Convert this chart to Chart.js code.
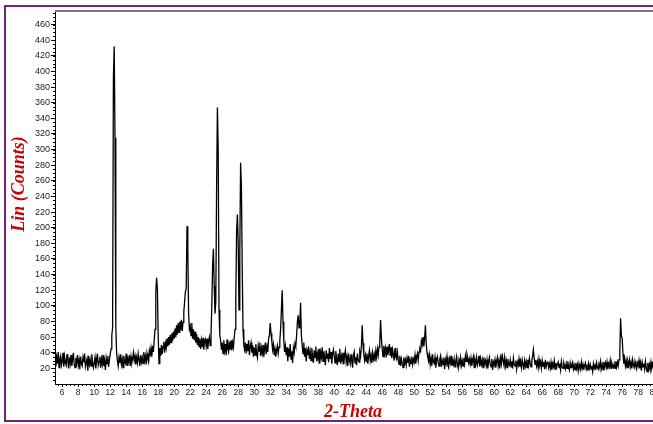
<!DOCTYPE html>
<html>
<head>
<meta charset="utf-8">
<script src="https://cdn.jsdelivr.net/npm/chart.js@4.4.1/dist/chart.umd.min.js"></script>
<style>
html, body { margin: 0; padding: 0; background: #fff; overflow: hidden; width: 653px; height: 424px; }
#frame { position: absolute; left: 4px; top: 5px; width: 720px; height: 413px; border: 2px solid #742474; }
#xrd { position: absolute; left: 0; top: 0; }
</style>
</head>
<body>
<div id="frame"></div>
<canvas id="xrd" width="700" height="424"></canvas>
<script>
// scan grid: 2-theta from 5.0 in steps of 0.1 deg
var scanStart = 5.0;
var scanStep = 0.1;

// counts, one row = 1 degree (10 steps)
var counts05 = [
    30,38,22,34,26,41,21,32,36,24,
    29,40,22,35,27,24,38,30,20,34,
    26,37,23,32,40,25,21,33,27,37,
    24,31,19,35,26,23,34,28,39,22,
    27,32,17,36,25,31,23,38,27,21];
var counts10 = [
    27,34,20,31,39,24,29,35,21,32,
    25,37,23,29,18,33,26,36,22,31,
    38,45,62,72,392,432,315,75,40,30,
    23,34,27,38,25,32,21,36,28,26,
    39,24,33,29,37,23,35,27,32,40];
var counts15 = [
    30,36,25,34,27,39,31,23,37,28,
    34,26,41,30,36,25,39,32,28,43,
    38,46,35,49,41,56,70,118,136,122,
    62,26,46,36,50,38,48,54,40,52,
    46,58,48,60,50,63,53,65,55,67];
var counts20 = [
    58,71,60,75,63,78,66,80,69,82,
    68,79,92,105,118,122,202,175,90,70,
    74,62,78,58,70,56,67,53,64,50,
    60,48,58,45,56,47,59,44,54,57,
    48,58,45,55,60,49,62,100,150,173];
var counts25 = [
    125,90,105,250,354,300,95,62,56,44,
    53,39,56,43,51,37,57,45,41,54,
    44,56,43,53,47,59,70,108,195,217,
    180,95,170,283,254,150,70,50,44,53,
    39,51,42,56,37,48,53,40,50,35];
var counts30 = [
    47,37,51,40,34,49,42,53,36,46,
    39,50,35,45,53,38,48,41,58,62,
    78,65,55,44,51,37,45,35,43,49,
    39,47,55,70,95,120,80,55,41,49,
    37,47,29,45,35,51,32,42,27,46];
var counts35 = [
    40,52,48,62,80,88,72,78,104,62,
    49,39,53,35,46,29,43,37,48,32,
    41,30,46,35,27,43,34,48,29,39,
    32,45,26,40,34,47,29,42,35,24,
    43,33,39,28,46,32,41,26,38,44];
var counts40 = [
    37,27,42,32,24,39,29,45,26,36,
    30,40,25,37,43,28,35,23,39,31,
    26,38,29,21,36,41,27,34,24,39,
    31,28,41,36,48,75,52,38,30,37,
    29,39,26,36,43,30,37,27,40,32];
var counts45 = [
    38,29,42,34,45,37,47,55,82,58,
    45,35,49,39,46,34,48,37,43,51,
    36,47,33,44,38,30,46,35,32,41,
    31,25,36,23,32,27,21,34,26,31,
    24,33,27,36,22,31,26,35,25,32];
var counts50 = [
    28,37,26,34,39,30,41,45,42,55,
    50,60,48,58,75,52,40,34,29,37,
    25,33,23,38,28,26,34,21,31,35,
    27,23,32,36,22,30,25,34,19,31,
    26,35,24,21,32,27,36,23,30,25];
var counts55 = [
    32,22,29,35,25,20,31,26,34,24,
    30,23,33,26,36,29,38,33,27,32,
    25,33,23,30,35,21,31,26,34,24,
    28,36,22,32,25,31,21,34,26,30,
    23,31,20,29,34,25,22,32,18,28];
var counts60 = [
    24,31,21,29,34,23,30,20,33,26,
    39,30,25,34,23,30,21,32,26,24,
    31,22,29,20,33,25,23,30,19,28,
    24,32,22,29,21,31,25,18,30,23,
    29,21,31,24,33,26,22,30,36,44];
var counts65 = [
    33,25,31,23,29,21,32,24,28,20,
    30,23,28,19,31,22,27,29,21,26,
    20,28,18,26,22,30,19,27,21,25,
    28,21,26,18,29,22,20,27,23,19,
    26,20,29,22,18,27,21,25,28,19];
var counts70 = [
    24,18,27,20,25,17,26,21,19,28,
    20,25,18,24,27,19,23,17,26,20,
    25,19,23,16,26,20,24,18,27,21,
    19,26,21,29,20,25,18,28,22,27,
    21,28,19,26,22,30,20,27,23,21];
var counts75 = [
    26,20,29,22,28,23,31,40,84,62,
    58,38,26,32,23,30,21,29,24,31,
    22,28,20,31,24,21,29,23,19,27,
    23,30,20,27,17,28,22,26,19,29,
    21,16,27,19,25,18,28,21,26,20];
var counts80 = [
    27,21,25,19,28,22,26,20,25,21,
    26,20,24,27,19,25,21,26,20,24,
    23];

var xTicks = [6,8,10,12,14,16,18,20,22,24,26,28,30,32,34,36,38,40,42,44,46,48,50,52,54,56,58,60,62,64,66,68,70,72,74,76,78,80,82];
var yTicks = [20,40,60,80,100,120,140,160,180,200,220,240,260,280,300,320,340,360,380,400,420,440,460];
var xTitle = "2-Theta";
var yTitle = "Lin (Counts)";

var segments = [counts05,counts10,counts15,counts20,counts25,counts30,counts35,counts40,counts45,counts50,counts55,counts60,counts65,counts70,counts75,counts80];
var points = [];
var n = 0;
segments.forEach(function (seg) {
    seg.forEach(function (c) {
        points.push({x: +(scanStart + n*scanStep).toFixed(1), y: c});
        n++;
    });
});

var tickFont = {family: '"Liberation Sans", Arial, sans-serif', size: 8.5};

// minor ticks, plot top line and the red axis titles
var decorations = {
    id: 'decorations',
    afterDraw: function (chart) {
        var ctx = chart.ctx, area = chart.chartArea;
        var xs = chart.scales.x, ys = chart.scales.y;
        ctx.save();
        ctx.strokeStyle = '#7a7a7a';
        ctx.lineWidth = 2;
        ctx.beginPath();
        ctx.moveTo(area.left, area.top - 1);
        ctx.lineTo(chart.width, area.top - 1);
        ctx.stroke();

        ctx.strokeStyle = '#000';
        ctx.lineWidth = 1;
        ctx.beginPath();
        for (var v = 5.5; v <= xs.max; v += 0.5) {
            var px = Math.round(xs.getPixelForValue(v)) + 0.5;
            ctx.moveTo(px, area.bottom);
            ctx.lineTo(px, area.bottom + 2);
        }
        for (var w = 5; w <= ys.max; w += 5) {
            var py = Math.round(ys.getPixelForValue(w)) + 0.5;
            ctx.moveTo(area.left - 2, py);
            ctx.lineTo(area.left, py);
        }
        ctx.stroke();

        ctx.fillStyle = '#cc0000';
        ctx.font = 'italic bold 18px "Liberation Serif", "Times New Roman", serif';
        ctx.textAlign = 'center';
        ctx.textBaseline = 'middle';
        ctx.fillText(xTitle, 353, 412);
        ctx.translate(19, 184);
        ctx.rotate(-Math.PI / 2);
        ctx.fillText(yTitle, 0, 0);
        ctx.restore();
    }
};

new Chart(document.getElementById('xrd'), {
    type: 'line',
    data: {
        datasets: [{
            data: points,
            borderColor: '#000',
            borderWidth: 1.3,
            pointRadius: 0,
            tension: 0,
            fill: false
        }]
    },
    options: {
        responsive: false,
        animation: false,
        events: [],
        layout: {padding: {left: 0, top: 12, right: 29, bottom: 0}},
        plugins: {legend: {display: false}, tooltip: {enabled: false}},
        scales: {
            x: {
                type: 'linear',
                min: 5.1,
                max: 82.1,
                afterFit: function (scale) { scale.height = 40; },
                afterBuildTicks: function (scale) {
                    scale.ticks = xTicks.map(function (v) { return {value: v}; });
                },
                grid: {display: true, drawOnChartArea: false, drawTicks: true, tickLength: 3, color: '#000'},
                border: {display: true, color: '#000', width: 1},
                ticks: {font: tickFont, color: '#222', padding: 1, autoSkip: false, maxRotation: 0}
            },
            y: {
                type: 'linear',
                min: 0,
                max: 476,
                afterFit: function (scale) { scale.width = 55; },
                afterBuildTicks: function (scale) {
                    scale.ticks = yTicks.map(function (v) { return {value: v}; });
                },
                grid: {display: true, drawOnChartArea: false, drawTicks: true, tickLength: 4, color: '#000'},
                border: {display: true, color: '#000', width: 1},
                ticks: {font: {family: '"Liberation Sans", Arial, sans-serif', size: 9}, color: '#222', padding: 1}
            }
        }
    },
    plugins: [decorations]
});
</script>
</body>
</html>
